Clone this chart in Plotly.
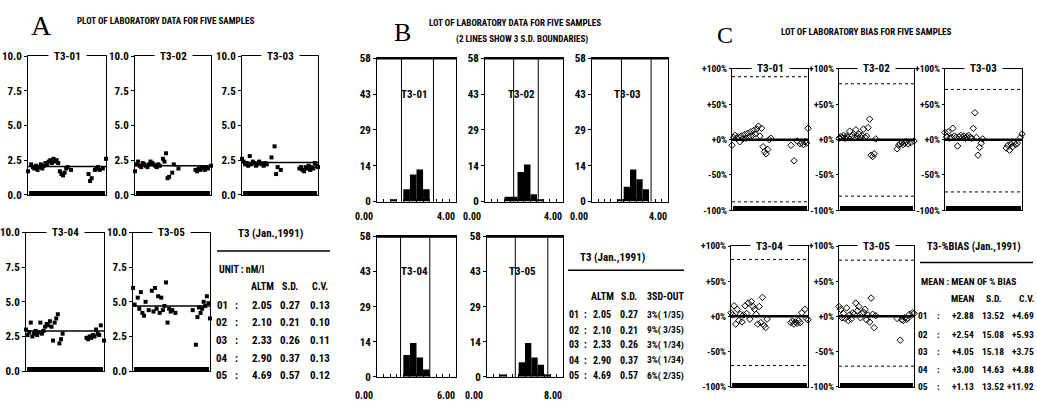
import plotly.graph_objects as go

W, H = 1037, 410
FONT = "Roboto Condensed, Liberation Sans Narrow, Liberation Sans, Arial, sans-serif"
SERIF = "Liberation Serif, DejaVu Serif, serif"
NB = "\u00a0"

# ---------------- data ----------------
sample_names = ["T3-01", "T3-02", "T3-03", "T3-04", "T3-05"]
row_ids = ["01", "02", "03", "04", "05"]
altm = [2.05, 2.10, 2.33, 2.90, 4.69]
sd_vals = [0.27, 0.21, 0.26, 0.37, 0.57]
cv_vals = [0.13, 0.10, 0.11, 0.13, 0.12]
out_3sd = ["3%( 1/35)", "9%( 3/35)", "3%( 1/34)", "3%( 1/34)", "6%( 2/35)"]
bias_mean = [2.88, 2.54, 4.05, 3.00, 1.13]
bias_sd = [13.52, 15.08, 15.18, 14.63, 13.52]
bias_cv = [4.69, 5.93, 3.75, 4.88, 11.92]

# Panel A : laboratory data (run index, value)
a1_x = [0, 2, 3, 4, 5, 6, 7, 8, 9, 10, 11, 12, 13, 14, 15, 16, 17, 18, 19, 20, 21, 22, 23, 24, 25, 27,
        38, 39, 40, 42, 43, 44, 45, 47, 49]
a1_y = [1.7, 2.2, 2.0, 1.9, 2.1, 1.8, 2.0, 2.2, 1.9, 2.1, 2.3, 2.2, 2.4, 2.5, 2.3, 2.6, 2.4, 2.5, 2.3, 1.7,
        1.5, 1.4, 1.6, 1.9, 2.0, 1.8, 1.5, 1.0, 1.2, 1.8, 1.9, 2.0, 1.8, 1.9, 2.6]
a2_x = [0, 1, 2, 3, 4, 5, 6, 7, 8, 9, 10, 11, 12, 13, 14, 15, 16, 18, 19, 20, 21, 22, 24, 25, 28,
        39, 40, 41, 42, 43, 44, 45, 46, 47, 49]
a2_y = [1.7, 2.2, 2.4, 2.1, 2.0, 2.3, 2.2, 2.1, 2.0, 2.2, 2.4, 2.3, 2.2, 2.1, 2.0, 2.2, 2.1, 2.6, 2.4, 3.0,
        1.2, 1.3, 1.6, 2.2, 1.9, 1.8, 1.7, 1.9, 1.8, 2.0, 1.9, 1.8, 2.0, 1.9, 2.1]
a3_x = [0, 1, 2, 3, 4, 5, 6, 7, 8, 9, 10, 11, 12, 13, 14, 15, 16, 19, 21, 22, 23, 25,
        37, 38, 39, 40, 41, 42, 43, 44, 45, 46, 47, 48, 49]
a3_y = [2.6, 2.4, 2.2, 2.3, 2.1, 2.8, 2.2, 2.4, 2.3, 2.1, 2.2, 2.4, 2.3, 2.2, 2.1, 2.3, 2.2, 2.7, 3.5, 1.5,
        2.0, 1.8, 1.9, 2.0, 1.8, 1.7, 2.0, 1.9, 2.1, 1.8, 2.0, 1.9, 2.3, 2.1, 2.0]
a4_x = [0, 1, 2, 3, 4, 5, 6, 7, 8, 9, 10, 11, 12, 13, 14, 15, 16, 17, 18, 19, 20, 21, 22, 23,
        38, 39, 40, 41, 42, 43, 44, 45, 46, 47, 49]
a4_y = [3.0, 2.6, 2.8, 3.5, 2.5, 2.7, 2.9, 2.6, 2.8, 3.5, 2.7, 2.9, 3.2, 3.4, 3.3, 3.6, 3.2, 2.2, 3.5, 3.8,
        4.1, 2.0, 2.3, 2.7, 2.4, 2.3, 2.5, 2.4, 2.6, 2.5, 3.0, 2.7, 2.6, 3.3, 2.2]
a5_x = [0, 1, 3, 4, 5, 6, 7, 8, 10, 12, 13, 14, 15, 16, 17, 18, 19, 20, 21, 22, 23, 24, 25, 27,
        38, 40, 41, 42, 43, 44, 45, 46, 47, 48, 49]
a5_y = [6.0, 4.8, 5.3, 4.5, 5.7, 4.2, 4.0, 5.0, 4.4, 5.8, 4.3, 6.0, 4.5, 5.4, 4.2, 5.3, 4.4, 4.7, 6.4, 3.5,
        4.5, 4.3, 4.4, 4.2, 4.4, 1.9, 3.9, 4.6, 4.2, 4.5, 5.0, 4.7, 5.4, 4.9, 3.8]

# Panel B : histograms (bin left edges, counts), x-range max, bin width, 3SD boundaries
b1_edges = [0.667, 1.333, 1.667, 2.0, 2.333]
b1_counts = [1, 5, 11, 13, 5]
b2_edges = [1.0, 1.333, 1.667, 2.0, 2.333, 2.667]
b2_counts = [2, 2, 12, 15, 3, 1]
b3_edges = [1.333, 1.667, 2.0, 2.333, 2.667]
b3_counts = [1, 6, 13, 9, 5]
b4_edges = [2.0, 2.5, 3.0, 3.5]
b4_counts = [9, 14, 8, 3]
b5_edges = [1.333, 3.333, 4.0, 4.667, 5.333, 6.0]
b5_counts = [1, 6, 14, 8, 5, 1]
b_xmax = [4.0, 4.0, 4.0, 6.0, 8.0]
b_binw = [0.333, 0.333, 0.333, 0.5, 0.667]
b_lo = [1.24, 1.47, 1.55, 1.79, 2.98]
b_hi = [2.86, 2.73, 3.11, 4.01, 6.40]
b_xlabels = [("0.00", "4.00"), ("0.00", "4.00"), ("0.00", "4.00"), ("0.00", "6.00"), ("0.00", "8.00")]

# Panel C : % bias
c1_x = [0, 1, 2, 3, 4, 5, 6, 7, 8, 9, 10, 11, 12, 13, 14, 15, 16, 17, 18, 19, 20, 21, 22, 23, 24, 25,
        38, 40, 42, 44, 45, 46, 47, 48, 49]
c1_y = [-8, 3, 6, 2, 4, -3, 5, 1, 7, 2, 9, 4, 11, 6, 13, 8, 15, 19, 5, 16, -10, -17, -20, -14, 0, 2,
        -8, -30, -2, -6, -4, -7, -3, -5, 16]
c2_x = [0, 1, 2, 3, 4, 5, 6, 7, 8, 9, 10, 11, 12, 13, 14, 15, 16, 17, 18, 19, 20, 21, 22, 23, 24,
        38, 39, 40, 41, 42, 43, 44, 45, 47, 49]
c2_y = [2, 4, 3, 6, 2, 5, 3, 12, 4, 6, 3, 14, 5, 8, 4, 6, 15, 3, 5, 17, 29, -22, -24, -20, 1,
        -13, -8, -6, -4, -7, -5, -3, -6, -4, -2]
c3_x = [0, 1, 2, 3, 4, 5, 6, 7, 8, 9, 10, 11, 12, 13, 14, 15, 16, 17, 18, 19, 20, 21, 22, 23, 24,
        39, 40, 41, 42, 43, 44, 45, 46, 48, 49]
c3_y = [10, 4, 11, 2, 3, 16, 5, 3, -9, 4, 6, 3, 5, 2, 4, 6, 3, 2, 16, 38, 3, -22, -11, -5, 1,
        -12, -8, -15, -6, -10, -4, -7, -5, 3, 8]
c4_x = [0, 1, 2, 3, 4, 5, 6, 7, 8, 9, 10, 11, 12, 13, 14, 15, 16, 17, 18, 19, 20, 21, 22, 23,
        38, 39, 40, 41, 42, 43, 44, 45, 47, 48, 49]
c4_y = [5, 2, 15, -11, 10, -6, 3, -8, 2, 15, 4, 19, -4, 21, 14, 10, 3, -11, 14, -9, 27, -13, -16, -4,
        -9, -7, -11, -8, -10, -6, -9, 5, 10, -3, -5]
c5_x = [0, 1, 2, 3, 4, 5, 6, 7, 8, 9, 10, 11, 12, 13, 14, 15, 16, 17, 18, 19, 20, 21, 22, 23, 24,
        38, 40, 41, 42, 43, 44, 45, 46, 48, 49]
c5_y = [14, 10, -2, 4, -3, 12, -6, 2, -4, 5, 3, 19, 8, 14, -2, 4, 6, 10, -5, 2, -8, 26, 3, -16, 1,
        -3, -34, -5, -6, -2, -4, -3, 3, 5, 4]
c_hi = [89, 79, 71, 81, 80]
c_lo = [-88, -80, -74, -70, -71]

a_tickvals = [0, 2.5, 5, 7.5, 10]
a_ticktext = ["0.0", "2.5", "5.0", "7.5", "10.0"]
b_tickvals = [0, 14.5, 29, 43.5, 58]
b_ticktext = ["0", "14", "29", "43", "58"]
c_tickvals = [-100, -50, 0, 50, 100]
c_ticktext = ["-100%", "-50%", "+0%", "+50%", "+100%"]

a_series = [(a1_x, a1_y), (a2_x, a2_y), (a3_x, a3_y), (a4_x, a4_y), (a5_x, a5_y)]
b_series = [(b1_edges, b1_counts), (b2_edges, b2_counts), (b3_edges, b3_counts),
            (b4_edges, b4_counts), (b5_edges, b5_counts)]
c_series = [(c1_x, c1_y), (c2_x, c2_y), (c3_x, c3_y), (c4_x, c4_y), (c5_x, c5_y)]

# ---------------- layout geometry (pixels) ----------------
frames_a = [(28, 106, 52, 195), (135, 211, 52, 195), (242, 318, 52, 195),
            (26, 104, 234, 377), (133, 210, 234, 377)]
frames_b = [(377, 456, 54, 202), (485, 563, 54, 202), (592, 668, 54, 202),
            (377, 456, 238, 383), (487, 563, 238, 383)]
frames_c = [(732, 808, 65, 211), (839, 914, 65, 211), (945, 1022, 65, 211),
            (731, 808, 248, 393), (839, 914, 248, 393)]


def names(i):
    s = "" if i == 1 else str(i)
    return "x" + s, "y" + s, "xaxis" + s, "yaxis" + s


def dom(fr):
    x0, x1, y0, y1 = fr
    return [x0 / W, x1 / W], [1 - y1 / H, 1 - y0 / H]


def px(x):
    return x / W


def py(y):
    return 1 - y / H


def tf(size=10):
    return dict(family=FONT, size=size, color="black", weight="bold")


base = dict(showgrid=False, zeroline=False, showline=True, mirror=True,
            linecolor="black", linewidth=1, fixedrange=True)

fig = go.Figure()
axes = {}
shapes = []
ann = []


def top_title(xr, yr, text):
    ann.append(dict(xref=xr + " domain", yref=yr + " domain", x=0.5, y=1.0,
                    text=NB * 2 + text + NB * 2, showarrow=False,
                    bgcolor="white", font=tf(11), xanchor="center", yanchor="middle",
                    borderpad=0))


# ----- Panel A -----
for k in range(5):
    i = k + 1
    xr, yr, xk, yk = names(i)
    dx, dy = dom(frames_a[k])
    axes[xk] = dict(base, domain=dx, anchor=yr, range=[0, 49], ticks="inside", tick0=0, dtick=0.5,
                    ticklen=4, tickwidth=1.2, tickcolor="black", showticklabels=False)
    axes[yk] = dict(base, domain=dy, anchor=xr, range=[0, 10], tickvals=a_tickvals,
                    ticktext=a_ticktext, ticks="outside", ticklen=3, tickcolor="black",
                    tickfont=tf(11))
    xs, ys = a_series[k]
    fig.add_trace(go.Scatter(x=xs, y=ys, mode="markers", xaxis=xr, yaxis=yr, cliponaxis=False,
                             marker=dict(symbol="square", size=4, color="black")))
    shapes.append(dict(type="line", xref=xr + " domain", yref=yr, x0=0, x1=1,
                       y0=altm[k], y1=altm[k], line=dict(color="black", width=1.5)))
    top_title(xr, yr, sample_names[k])

# ----- Panel B -----
for k in range(5):
    i = k + 6
    xr, yr, xk, yk = names(i)
    dx, dy = dom(frames_b[k])
    axes[xk] = dict(base, domain=dx, anchor=yr, range=[0, b_xmax[k]], ticks="inside", tick0=0,
                    dtick=b_binw[k], ticklen=3, tickcolor="black", showticklabels=False)
    axes[yk] = dict(base, domain=dy, anchor=xr, range=[0, 58], tickvals=b_tickvals,
                    ticktext=b_ticktext, ticks="outside", ticklen=3, tickcolor="black",
                    tickfont=tf(11))
    edges, counts = b_series[k]
    fig.add_trace(go.Bar(x=edges, y=counts, width=b_binw[k], offset=0, xaxis=xr, yaxis=yr,
                         marker=dict(color="black", line=dict(width=0))))
    for v in (b_lo[k], b_hi[k]):
        shapes.append(dict(type="line", xref=xr, yref=yr + " domain", x0=v, x1=v, y0=0, y1=1,
                           line=dict(color="black", width=1)))
    shapes.append(dict(type="line", xref=xr + " domain", yref=yr + " domain", x0=0, x1=1,
                       y0=1, y1=1, line=dict(color="black", width=2.5)))
    ann.append(dict(xref=xr + " domain", yref=yr, x=0.47, y=43.5, text=sample_names[k],
                    showarrow=False, font=tf(11), xanchor="center", yanchor="middle"))
    x0, x1, y0, y1 = frames_b[k]
    lab_y = 217 if k < 3 else 402
    lo_t, hi_t = b_xlabels[k]
    ann.append(dict(xref="paper", yref="paper", x=px(x0 - 2), y=py(lab_y), text=lo_t,
                    showarrow=False, font=tf(10), xanchor="right", yanchor="middle"))
    ann.append(dict(xref="paper", yref="paper", x=px(x1 + 1), y=py(lab_y), text=hi_t,
                    showarrow=False, font=tf(10), xanchor="right", yanchor="middle"))

# ----- Panel C -----
for k in range(5):
    i = k + 11
    xr, yr, xk, yk = names(i)
    dx, dy = dom(frames_c[k])
    axes[xk] = dict(base, domain=dx, anchor=yr, range=[0, 49], ticks="inside", tick0=0, dtick=0.5,
                    ticklen=4, tickwidth=1.2, tickcolor="black", showticklabels=False)
    axes[yk] = dict(base, domain=dy, anchor=xr, range=[-100, 100], tickvals=c_tickvals,
                    ticktext=c_ticktext, ticks="outside", ticklen=2, tickcolor="black",
                    tickfont=tf(9.5))
    xs, ys = c_series[k]
    shapes.append(dict(type="line", xref=xr + " domain", yref=yr, x0=0, x1=1, y0=0, y1=0,
                       line=dict(color="black", width=2.5)))
    for v in (c_hi[k], c_lo[k]):
        shapes.append(dict(type="line", xref=xr + " domain", yref=yr, x0=0, x1=1, y0=v, y1=v,
                           line=dict(color="black", width=1, dash="dot")))
    fig.add_trace(go.Scatter(x=xs, y=ys, mode="markers", xaxis=xr, yaxis=yr, cliponaxis=False,
                             marker=dict(symbol="diamond-open", size=5, color="black",
                                         line=dict(width=1, color="black"))))
    top_title(xr, yr, sample_names[k])

# ----- panel letters and titles -----
ann += [
    dict(x=px(41), y=py(20), text="A", font=dict(family=SERIF, size=28, color="black")),
    dict(x=px(165), y=py(15), text="PLOT OF LABORATORY DATA FOR FIVE SAMPLES", font=tf(9)),
    dict(x=px(402), y=py(27), text="B", font=dict(family=SERIF, size=26, color="black")),
    dict(x=px(515), y=py(18), text="LOT OF LABORATORY DATA FOR FIVE SAMPLES", font=tf(9)),
    dict(x=px(522), y=py(35), text="(2 LINES SHOW 3 S.D. BOUNDARIES)", font=tf(9)),
    dict(x=px(725), y=py(30), text="C", font=dict(family=SERIF, size=24, color="black")),
    dict(x=px(866), y=py(27), text="LOT OF LABORATORY BIAS FOR FIVE SAMPLES", font=tf(9)),
]
for a in ann[-7:]:
    a.update(xref="paper", yref="paper", showarrow=False, xanchor="center", yanchor="middle")


def txt(x, y, t, anchor="center", size=10):
    ann.append(dict(xref="paper", yref="paper", x=px(x), y=py(y), text=t, showarrow=False,
                    font=tf(size), xanchor=anchor, yanchor="middle"))


# ----- table A -----
txt(270, 235, "T3 (Jan.,1991)", size=11)
shapes.append(dict(type="line", xref="paper", yref="paper", x0=px(217), x1=px(330),
                   y0=py(253), y1=py(253), line=dict(color="black", width=1.5)))
txt(217, 272, "UNIT : nM/l", anchor="left")
txt(262, 290, "ALTM")
txt(290, 290, "S.D.")
txt(320, 290, "C.V.")
rows_a = [309, 327, 345, 364, 382]
for k in range(5):
    txt(222, rows_a[k], row_ids[k], size=11)
    txt(236, rows_a[k], ":", size=11)
    txt(262, rows_a[k], f"{altm[k]:.2f}", size=11)
    txt(290, rows_a[k], f"{sd_vals[k]:.2f}", size=11)
    txt(320, rows_a[k], f"{cv_vals[k]:.2f}", size=11)

# ----- table B -----
txt(612, 260, "T3 (Jan.,1991)", size=11)
shapes.append(dict(type="line", xref="paper", yref="paper", x0=px(568), x1=px(684),
                   y0=py(273), y1=py(273), line=dict(color="black", width=1.5)))
txt(602, 300, "ALTM")
txt(629, 300, "S.D.")
txt(665, 300, "3SD-OUT")
rows_b = [319, 335, 350, 366, 382]
for k in range(5):
    txt(574, rows_b[k], row_ids[k])
    txt(585, rows_b[k], ":")
    txt(602, rows_b[k], f"{altm[k]:.2f}")
    txt(629, rows_b[k], f"{sd_vals[k]:.2f}")
    txt(665, rows_b[k], out_3sd[k].replace(" ", NB), size=9.5)

# ----- table C -----
txt(974, 248, "T3-%BIAS (Jan.,1991)", size=10.5)
shapes.append(dict(type="line", xref="paper", yref="paper", x0=px(920), x1=px(1033),
                   y0=py(265), y1=py(265), line=dict(color="black", width=1.5)))
txt(919, 285, "MEAN : MEAN OF % BIAS", anchor="left", size=9.5)
txt(963, 302, "MEAN", size=9.5)
txt(994, 302, "S.D.", size=9.5)
txt(1027, 302, "C.V.", size=9.5)
rows_c = [320, 339, 357, 375, 393]
for k in range(5):
    txt(923, rows_c[k], row_ids[k], size=9.5)
    txt(938, rows_c[k], ":", size=9.5)
    txt(963, rows_c[k], f"{bias_mean[k]:+.2f}", size=9.5)
    txt(993, rows_c[k], f"{bias_sd[k]:.2f}", size=9.5)
    txt(1036, rows_c[k], f"{bias_cv[k]:+.2f}", anchor="right", size=9.5)

fig.update_layout(width=W, height=H, margin=dict(l=0, r=0, t=0, b=0),
                  paper_bgcolor="white", plot_bgcolor="white", showlegend=False,
                  annotations=ann, shapes=shapes, **axes)

fig.write_html("out.html")
